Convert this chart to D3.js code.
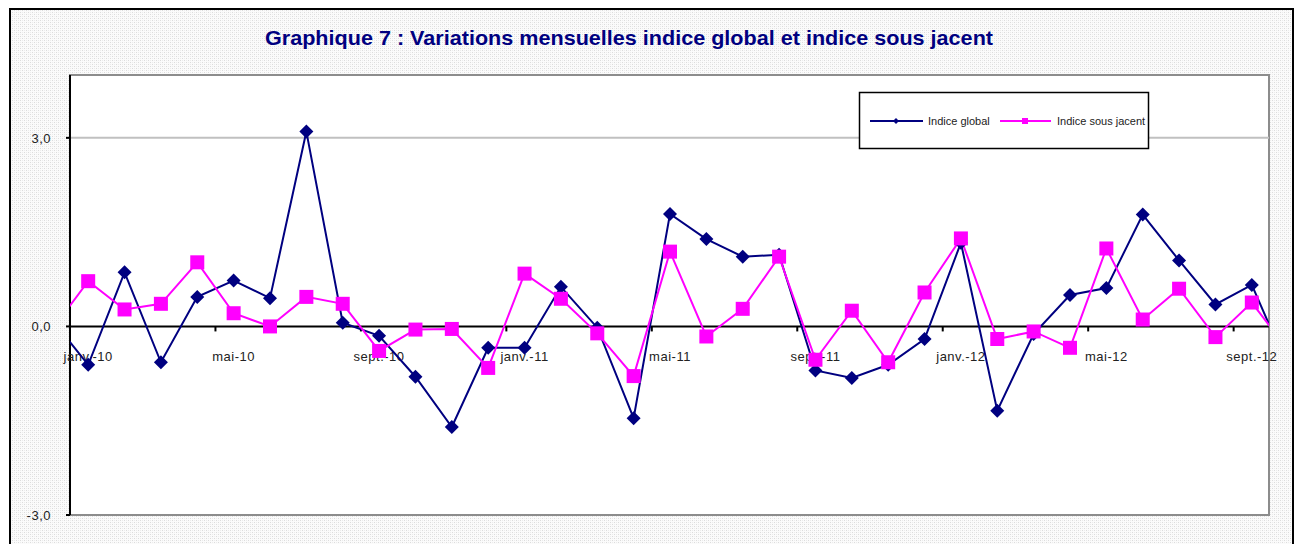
<!DOCTYPE html>
<html>
<head>
<meta charset="utf-8">
<script src="https://cdn.jsdelivr.net/npm/d3@7"></script>
<style>
  body { margin: 0; background: #fff; }
  svg text { font-family: "Liberation Sans", Arial, sans-serif; }
</style>
</head>
<body>
<svg id="chart" width="1305" height="544"></svg>
<script>
// months: first and last entries sit outside the visible axis (lines run off the edges)
var months = ['déc.-09',
  'janv.-10','févr.-10','mars-10','avr.-10','mai-10','juin-10','juil.-10','août-10','sept.-10','oct.-10','nov.-10','déc.-10',
  'janv.-11','févr.-11','mars-11','avr.-11','mai-11','juin-11','juil.-11','août-11','sept.-11','oct.-11','nov.-11','déc.-11',
  'janv.-12','févr.-12','mars-12','avr.-12','mai-12','juin-12','juil.-12','août-12','sept.-12',
  'oct.-12'];

var indiceGlobal = [0.11,
  -0.61, 0.86, -0.57, 0.47, 0.73, 0.45, 3.10, 0.06, -0.15, -0.80, -1.60, -0.34,
  -0.34, 0.63, -0.02, -1.46, 1.79, 1.39, 1.11, 1.14, -0.70, -0.82, -0.61, -0.20,
  1.33, -1.34, -0.12, 0.50, 0.61, 1.78, 1.05, 0.35, 0.66,
  -0.66];

var indiceSousJacent = [-0.06,
  0.72, 0.27, 0.36, 1.02, 0.21, 0.00, 0.47, 0.36, -0.39, -0.05, -0.04, -0.66,
  0.84, 0.44, -0.11, -0.79, 1.19, -0.16, 0.28, 1.11, -0.53, 0.25, -0.57, 0.54,
  1.40, -0.20, -0.08, -0.34, 1.24, 0.11, 0.60, -0.17, 0.38,
  -0.38];

var xLabels = ['janv.-10','mai-10','sept.-10','janv.-11','mai-11','sept.-11','janv.-12','mai-12','sept.-12'];
var yTicks = [-3, 0, 3];

var svg = d3.select('#chart');

// plot area
var plotLeft = 70, plotRight = 1270, plotTop = 75, plotBottom = 515;
var bw = (plotRight - plotLeft) / (months.length - 2);

var x = d3.scaleBand()
    .domain(months)
    .range([plotLeft - bw, plotRight + bw])
    .padding(0);

var y = d3.scaleLinear()
    .domain([-3, 4])
    .range([plotBottom, plotTop]);

var cx = function(m) { return x(m) + x.bandwidth() / 2; };

// dotted background pattern
var defs = svg.append('defs');
var pat = defs.append('pattern').attr('id', 'dots')
    .attr('width', 4).attr('height', 4).attr('patternUnits', 'userSpaceOnUse');
pat.append('rect').attr('width', 4).attr('height', 4).attr('fill', '#fbfbfb');
pat.append('rect').attr('x', 0).attr('y', 0).attr('width', 1).attr('height', 1).attr('fill', '#dcdcdc');
pat.append('rect').attr('x', 2).attr('y', 2).attr('width', 1).attr('height', 1).attr('fill', '#dcdcdc');
pat.append('rect').attr('x', 2).attr('y', 0).attr('width', 1).attr('height', 1).attr('fill', '#ececec');
pat.append('rect').attr('x', 0).attr('y', 2).attr('width', 1).attr('height', 1).attr('fill', '#ececec');

defs.append('clipPath').attr('id', 'plotclip')
  .append('rect').attr('x', plotLeft).attr('y', plotTop).attr('width', plotRight - plotLeft - 1).attr('height', plotBottom - plotTop);

defs.append('clipPath').attr('id', 'legclip')
  .append('rect').attr('x', 859).attr('y', 92).attr('width', 289).attr('height', 57);

// outer frame
svg.append('rect').attr('x', 10).attr('y', 9).attr('width', 1283).attr('height', 545)
    .attr('fill', 'url(#dots)').attr('stroke', '#000').attr('stroke-width', 2);

// plot area background
svg.append('rect').attr('x', plotLeft).attr('y', plotTop).attr('width', plotRight - plotLeft - 1).attr('height', plotBottom - plotTop)
    .attr('fill', '#fff').attr('stroke', '#8c8c8c').attr('stroke-width', 2);

// title
svg.append('text')
    .attr('x', 629).attr('y', 45)
    .attr('text-anchor', 'middle')
    .attr('font-size', 21).attr('font-weight', 'bold')
    .attr('fill', '#000080')
    .attr('textLength', 728).attr('lengthAdjust', 'spacingAndGlyphs')
    .text('Graphique 7 : Variations mensuelles indice global et indice sous jacent');

// gridline at 3,0
svg.append('line')
    .attr('x1', plotLeft).attr('x2', plotRight - 1)
    .attr('y1', y(3)).attr('y2', y(3))
    .attr('stroke', '#c0c0c0').attr('stroke-width', 2);

// y axis
svg.append('line')
    .attr('x1', plotLeft).attr('x2', plotLeft)
    .attr('y1', plotTop).attr('y2', plotBottom)
    .attr('stroke', '#000').attr('stroke-width', 2);

svg.selectAll('.ytick').data(yTicks).enter().append('line')
    .attr('x1', plotLeft - 4).attr('x2', plotLeft)
    .attr('y1', function(d) { return y(d); }).attr('y2', function(d) { return y(d); })
    .attr('stroke', '#000').attr('stroke-width', 2);

svg.selectAll('.ylab').data(yTicks).enter().append('text')
    .attr('x', 51).attr('y', function(d) { return y(d) + 5; })
    .attr('text-anchor', 'end')
    .attr('font-size', 13).attr('letter-spacing', 0.5).attr('fill', '#222')
    .text(function(d) { return d3.format('.1f')(d).replace('.', ',').replace('−', '-'); });

// x axis at zero
svg.append('line')
    .attr('x1', plotLeft).attr('x2', plotRight - 1)
    .attr('y1', y(0)).attr('y2', y(0))
    .attr('stroke', '#000').attr('stroke-width', 2);

svg.selectAll('.xtick').data(xLabels).enter().append('line')
    .attr('x1', function(d) { return x(d); }).attr('x2', function(d) { return x(d); })
    .attr('y1', y(0)).attr('y2', y(0) + 5)
    .attr('stroke', '#000').attr('stroke-width', 2);

svg.selectAll('.xlab').data(xLabels).enter().append('text')
    .attr('x', function(d) { return cx(d); }).attr('y', y(0) + 35)
    .attr('text-anchor', 'middle')
    .attr('font-size', 13).attr('letter-spacing', 0.5).attr('fill', '#222')
    .text(function(d) { return d; });

// series
var plot = svg.append('g').attr('clip-path', 'url(#plotclip)');

var seriesGlobal = months.map(function(m, i) { return {m: m, v: indiceGlobal[i]}; });
var seriesSJ = months.map(function(m, i) { return {m: m, v: indiceSousJacent[i]}; });

var line = d3.line()
    .x(function(d) { return cx(d.m); })
    .y(function(d) { return y(d.v); });

plot.append('path').datum(seriesGlobal)
    .attr('d', line).attr('fill', 'none')
    .attr('stroke', '#000080').attr('stroke-width', 2);

plot.append('path').datum(seriesSJ)
    .attr('d', line).attr('fill', 'none')
    .attr('stroke', '#ff00ff').attr('stroke-width', 2);

plot.selectAll('.diamond').data(seriesGlobal).enter().append('path')
    .attr('d', 'M0,-7L7,0L0,7L-7,0Z')
    .attr('transform', function(d) { return 'translate(' + cx(d.m) + ',' + y(d.v) + ')'; })
    .attr('fill', '#000080');

plot.selectAll('.square').data(seriesSJ).enter().append('rect')
    .attr('x', function(d) { return cx(d.m) - 7; })
    .attr('y', function(d) { return y(d.v) - 7; })
    .attr('width', 14).attr('height', 14)
    .attr('fill', '#ff00ff');

// legend
var leg = svg.append('g');
leg.append('rect').attr('x', 859.5).attr('y', 92.5).attr('width', 289).attr('height', 56)
    .attr('fill', '#fff').attr('stroke', '#000').attr('stroke-width', 1.5);

leg.append('line').attr('x1', 870).attr('x2', 923).attr('y1', 121).attr('y2', 121)
    .attr('stroke', '#000080').attr('stroke-width', 2);
leg.append('path').attr('d', 'M0,-3L3,0L0,3L-3,0Z').attr('transform', 'translate(896,121)').attr('fill', '#000080');
leg.append('text').attr('x', 928).attr('y', 125).attr('font-size', 11).attr('fill', '#222')
    .text('Indice global');

leg.append('line').attr('x1', 1000).attr('x2', 1051).attr('y1', 121).attr('y2', 121)
    .attr('stroke', '#ff00ff').attr('stroke-width', 2);
leg.append('rect').attr('x', 1022).attr('y', 118).attr('width', 6).attr('height', 6).attr('fill', '#ff00ff');
leg.append('text').attr('x', 1057).attr('y', 125).attr('font-size', 11).attr('fill', '#222')
    .attr('clip-path', 'url(#legclip)')
    .text('Indice sous jacent');
</script>
</body>
</html>
